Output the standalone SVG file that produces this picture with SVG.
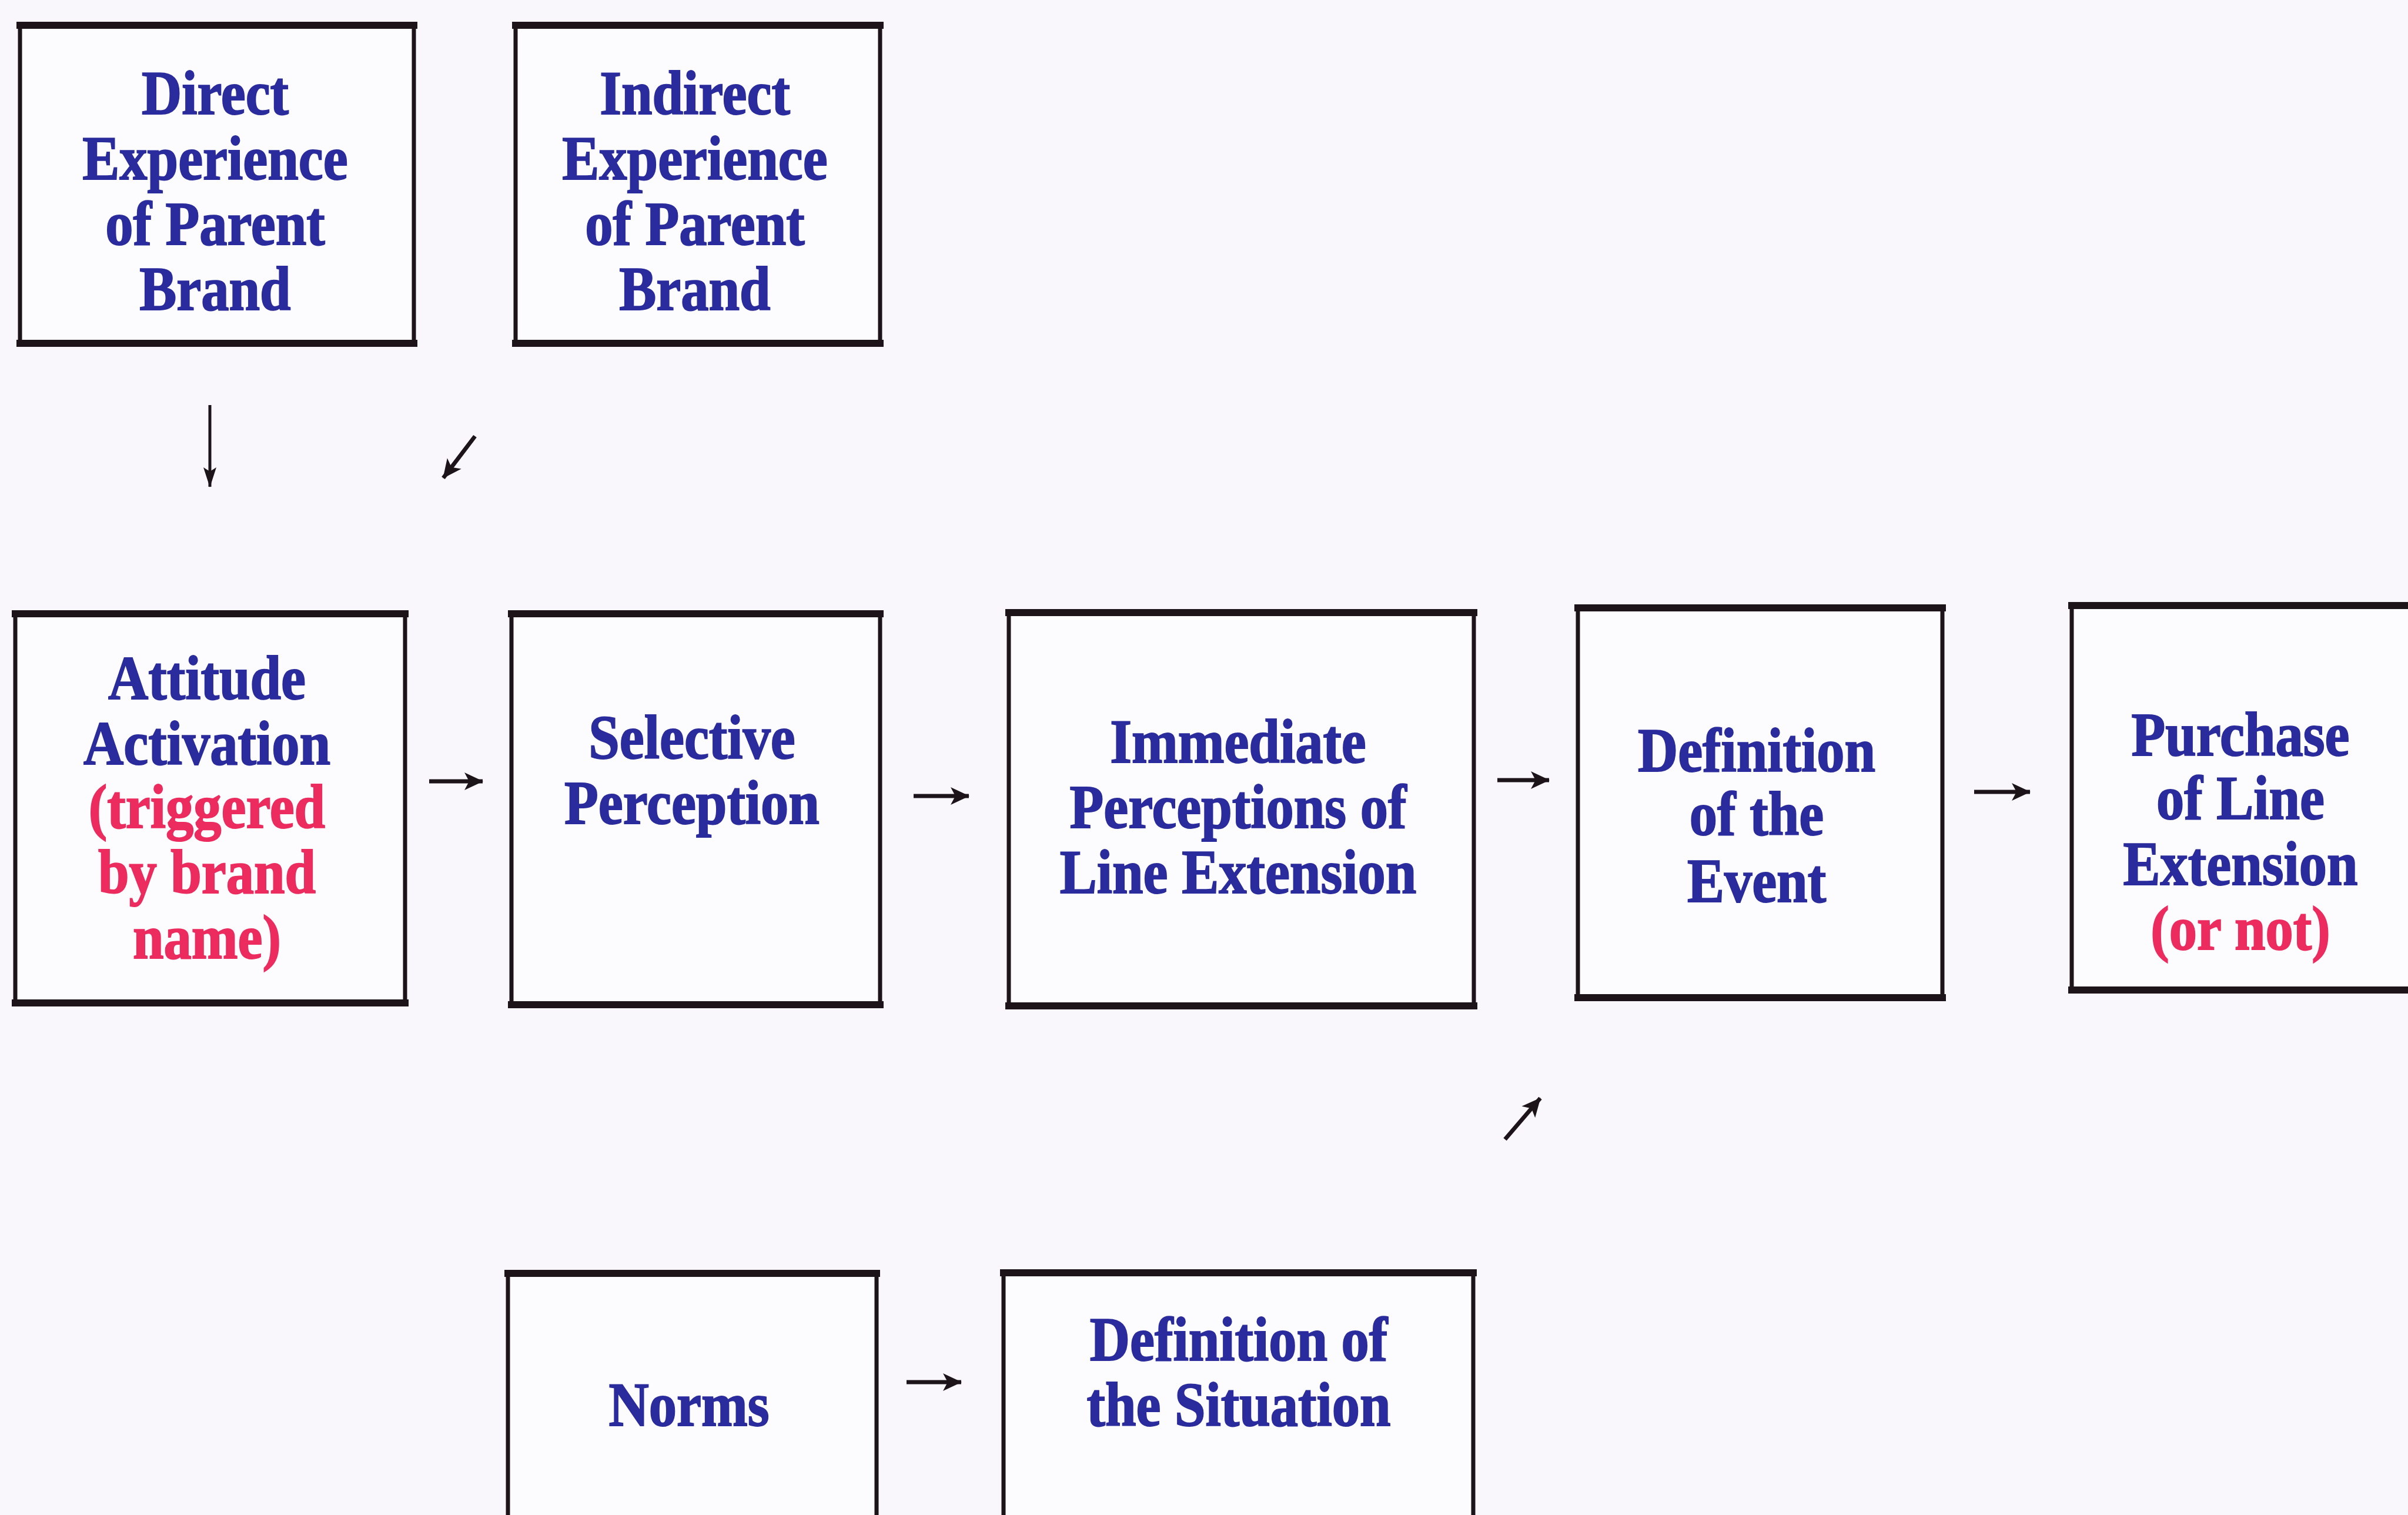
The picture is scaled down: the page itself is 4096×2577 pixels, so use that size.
<svg xmlns="http://www.w3.org/2000/svg" width="4096" height="2577" viewBox="0 0 4096 2577">
  <defs>
    <style>
      .box { fill: #fcfbfe; stroke: #1c1418; stroke-width: 7; }
      .edge { stroke: #1c1418; stroke-width: 12; stroke-linecap: square; }
      .lbl { font-family: "Liberation Serif", "Times New Roman", serif; font-weight: bold; font-size: 105px; fill: #2a2b9c; stroke: #2a2b9c; stroke-width: 2; text-anchor: middle; }
      .red { fill: #ec2b5e; stroke: #ec2b5e; }
      .arrow { stroke: #1c1418; stroke-width: 7; fill: none; marker-end: url(#head); }
      .arrow-thin { stroke: #1c1418; stroke-width: 5; fill: none; marker-end: url(#head-thin); }
    </style>
    <marker id="head" markerUnits="userSpaceOnUse" markerWidth="32" markerHeight="34" viewBox="0 0 32 34" refX="31" refY="17" orient="auto">
      <path d="M0,2 L32,17 L0,32 L8,17 Z" fill="#1c1418"/>
    </marker>
    <marker id="head-thin" markerUnits="userSpaceOnUse" markerWidth="34" markerHeight="28" viewBox="0 0 34 28" refX="33" refY="14" orient="auto">
      <path d="M0,3 L34,14 L0,25 L7,14 Z" fill="#1c1418"/>
    </marker>
  </defs>

  <rect x="0" y="0" width="4096" height="2577" fill="#f9f7fc"/>

  <!-- top row: sources of brand experience -->
  <g id="direct-experience">
    <rect class="box" x="34" y="43" width="670" height="541"/>
    <line class="edge" x1="34" y1="43" x2="704" y2="43"/>
    <line class="edge" x1="34" y1="584" x2="704" y2="584"/>
    <g transform="translate(366 0) scale(0.9 1)">
      <text class="lbl" x="0" y="194">Direct</text>
      <text class="lbl" x="0" y="305">Experience</text>
      <text class="lbl" x="0" y="416">of Parent</text>
      <text class="lbl" x="0" y="527">Brand</text>
    </g>
  </g>

  <g id="indirect-experience">
    <rect class="box" x="877" y="43" width="620" height="541"/>
    <line class="edge" x1="877" y1="43" x2="1497" y2="43"/>
    <line class="edge" x1="877" y1="584" x2="1497" y2="584"/>
    <g transform="translate(1182 0) scale(0.9 1)">
      <text class="lbl" x="0" y="194">Indirect</text>
      <text class="lbl" x="0" y="305">Experience</text>
      <text class="lbl" x="0" y="416">of Parent</text>
      <text class="lbl" x="0" y="527">Brand</text>
    </g>
  </g>

  <!-- middle row: the main sequence -->
  <g id="attitude-activation">
    <rect class="box" x="26" y="1044" width="663" height="662"/>
    <line class="edge" x1="26" y1="1044" x2="689" y2="1044"/>
    <line class="edge" x1="26" y1="1706" x2="689" y2="1706"/>
    <g transform="translate(352 0) scale(0.9 1)">
      <text class="lbl" x="0" y="1189">Attitude</text>
      <text class="lbl" x="0" y="1300">Activation</text>
      <text class="lbl red" x="0" y="1408">(triggered</text>
      <text class="lbl red" x="0" y="1519">by brand</text>
      <text class="lbl red" x="0" y="1630">name)</text>
    </g>
  </g>

  <g id="selective-perception">
    <rect class="box" x="870" y="1044" width="627" height="665"/>
    <line class="edge" x1="870" y1="1044" x2="1497" y2="1044"/>
    <line class="edge" x1="870" y1="1709" x2="1497" y2="1709"/>
    <g transform="translate(1177 0) scale(0.9 1)">
      <text class="lbl" x="0" y="1290">Selective</text>
      <text class="lbl" x="0" y="1401">Perception</text>
    </g>
  </g>

  <g id="immediate-perceptions">
    <rect class="box" x="1716" y="1042" width="791" height="669"/>
    <line class="edge" x1="1716" y1="1042" x2="2507" y2="1042"/>
    <line class="edge" x1="1716" y1="1711" x2="2507" y2="1711"/>
    <g transform="translate(2106 0) scale(0.9 1)">
      <text class="lbl" x="0" y="1297">Immediate</text>
      <text class="lbl" x="0" y="1408">Perceptions of</text>
      <text class="lbl" x="0" y="1519">Line Extension</text>
    </g>
  </g>

  <g id="definition-event">
    <rect class="box" x="2684" y="1034" width="620" height="663"/>
    <line class="edge" x1="2684" y1="1034" x2="3304" y2="1034"/>
    <line class="edge" x1="2684" y1="1697" x2="3304" y2="1697"/>
    <g transform="translate(2988 0) scale(0.9 1)">
      <text class="lbl" x="0" y="1312">Definition</text>
      <text class="lbl" x="0" y="1420">of the</text>
      <text class="lbl" x="0" y="1534">Event</text>
    </g>
  </g>

  <g id="purchase">
    <rect class="box" x="3524" y="1030" width="600" height="654"/>
    <line class="edge" x1="3524" y1="1030" x2="4110" y2="1030"/>
    <line class="edge" x1="3524" y1="1684" x2="4110" y2="1684"/>
    <g transform="translate(3811 0) scale(0.9 1)">
      <text class="lbl" x="0" y="1285">Purchase</text>
      <text class="lbl" x="0" y="1393">of Line</text>
      <text class="lbl" x="0" y="1505">Extension</text>
      <text class="lbl red" x="0" y="1615">(or not)</text>
    </g>
  </g>

  <!-- bottom row: situational influences -->
  <g id="norms">
    <rect class="box" x="864" y="2166" width="627" height="460"/>
    <line class="edge" x1="864" y1="2166" x2="1491" y2="2166"/>
    <g transform="translate(1172 0) scale(0.9 1)">
      <text class="lbl" x="0" y="2425">Norms</text>
    </g>
  </g>

  <g id="definition-situation">
    <rect class="box" x="1707" y="2165" width="799" height="460"/>
    <line class="edge" x1="1707" y1="2165" x2="2506" y2="2165"/>
    <g transform="translate(2107 0) scale(0.9 1)">
      <text class="lbl" x="0" y="2314">Definition of</text>
      <text class="lbl" x="0" y="2425">the Situation</text>
    </g>
  </g>

  <!-- connectors -->
  <g id="connectors">
    <line class="arrow-thin" x1="357" y1="689" x2="357" y2="828"/>
    <line class="arrow" x1="808" y1="742" x2="754" y2="813"/>
    <line class="arrow" x1="730" y1="1329" x2="821" y2="1329"/>
    <line class="arrow" x1="1554" y1="1354" x2="1648" y2="1354"/>
    <line class="arrow" x1="2547" y1="1327" x2="2635" y2="1327"/>
    <line class="arrow" x1="3358" y1="1347" x2="3453" y2="1347"/>
    <line class="arrow" x1="1542" y1="2351" x2="1635" y2="2351"/>
    <line class="arrow" x1="2560" y1="1938" x2="2620" y2="1868"/>
  </g>
</svg>
